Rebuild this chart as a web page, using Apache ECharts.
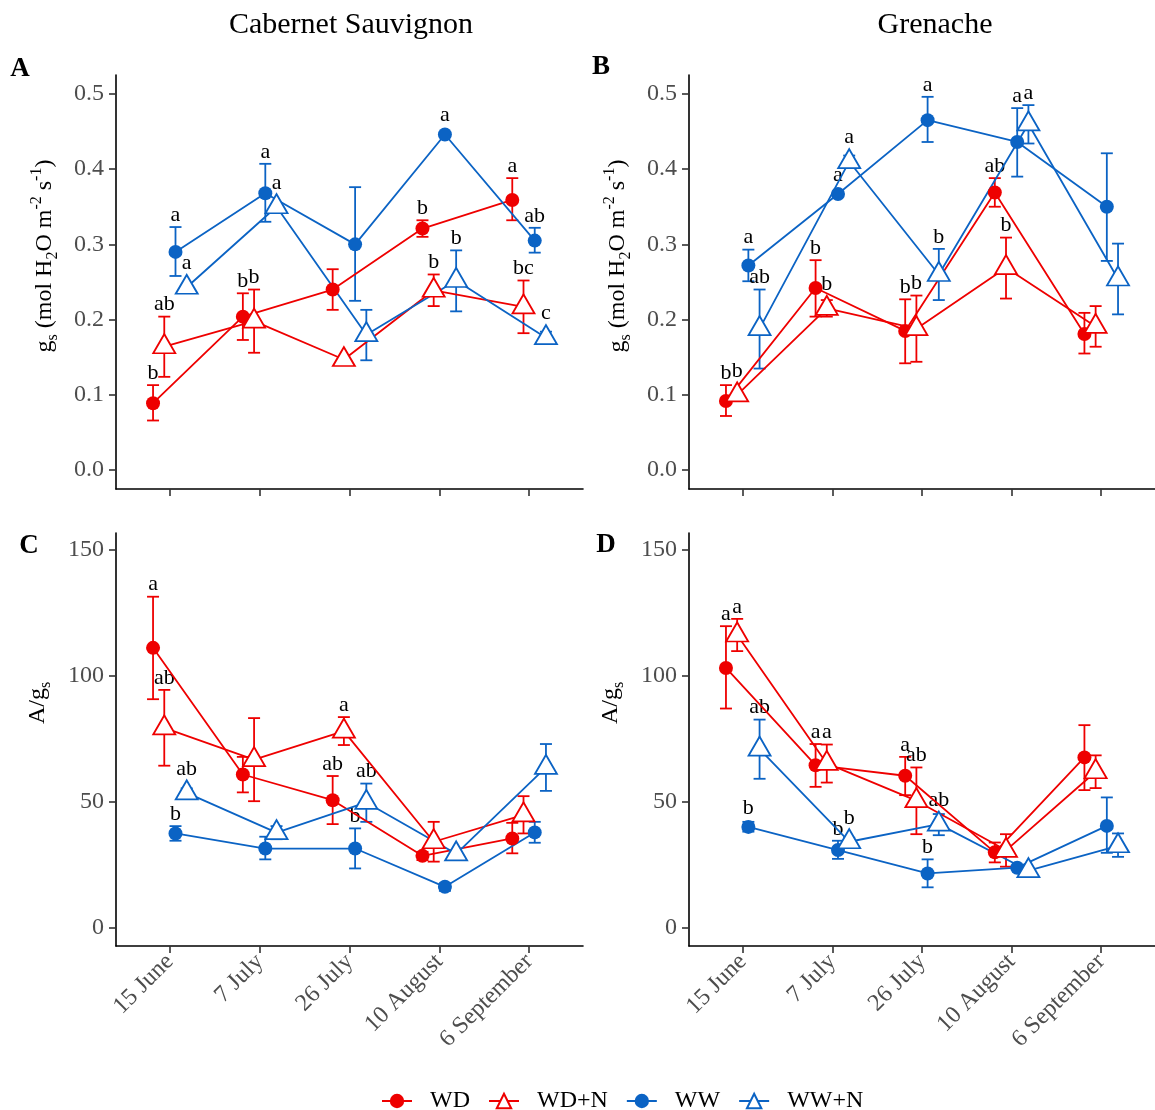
<!DOCTYPE html>
<html><head><meta charset="utf-8">
<script src="https://cdn.jsdelivr.net/npm/echarts@6/dist/echarts.min.js"></script>
<style>html,body{margin:0;padding:0;background:#fff}#c{width:1155px;height:1110px}</style>
</head><body><div id="c"></div>
<script>
// ---------------- data ----------------
const dates = ['15 June', '7 July', '26 July', '10 August', '6 September'];
const treatments = ['WD', 'WD+N', 'WW', 'WW+N'];
const gsTicks = [0, 0.1, 0.2, 0.3, 0.4, 0.5];
const agsTicks = [0, 50, 100, 150];

// each entry: [mean, lower error, upper error]
// Panel A : gs, Cabernet Sauvignon
const A_WD   = [[0.089,0.066,0.113],[0.204,0.173,0.235],[0.240,0.213,0.267],[0.321,0.310,0.332],[0.359,0.332,0.388]];
const A_WDN  = [[0.164,0.124,0.204],[0.198,0.156,0.240],[0.147,0.147,0.147],[0.239,0.218,0.260],[0.217,0.182,0.252]];
const A_WW   = [[0.290,0.258,0.323],[0.368,0.330,0.407],[0.300,0.225,0.376],[0.446,0.446,0.446],[0.305,0.289,0.322]];
const A_WWN  = [[0.243,0.243,0.243],[0.350,0.350,0.350],[0.180,0.146,0.213],[0.252,0.211,0.292],[0.176,0.168,0.184]];
const A_letters = [['b','b','','b','a'],['ab','b','','b','bc'],['a','a','','a','ab'],['a','a','','b','c']];
// Panel B : gs, Grenache
const B_WD   = [[0.092,0.072,0.113],[0.242,0.204,0.279],[0.185,0.142,0.227],[0.369,0.350,0.388],[0.181,0.155,0.209]];
const B_WDN  = [[0.100,0.100,0.100],[0.215,0.204,0.226],[0.188,0.144,0.232],[0.269,0.228,0.309],[0.191,0.164,0.218]];
const B_WW   = [[0.272,0.251,0.293],[0.367,0.367,0.367],[0.465,0.436,0.496],[0.436,0.390,0.481],[0.350,0.278,0.421]];
const B_WWN  = [[0.188,0.135,0.240],[0.410,0.402,0.418],[0.260,0.226,0.294],[0.460,0.434,0.485],[0.254,0.207,0.301]];
const B_letters = [['b','b','b','ab',''],['b','b','b','b',''],['a','a','a','a',''],['ab','a','b','a','']];
// Panel C : A/gs, Cabernet Sauvignon
const C_WD   = [[111.0,90.6,131.3],[60.7,53.6,67.7],[50.5,41.0,60.1],[28.4,26.7,30.0],[35.3,29.4,41.5]];
const C_WDN  = [[79.2,64.2,94.3],[66.6,50.1,83.1],[77.9,72.4,83.5],[34.0,26.1,41.9],[44.7,37.3,52.1]];
const C_WW   = [[37.3,34.4,40.2],[31.3,27.0,36.0],[31.3,23.4,39.3],[16.1,14.5,17.5],[37.7,33.6,41.9]];
const C_WWN  = [[53.4,51.6,55.2],[37.6,35.0,40.2],[49.6,41.9,57.1],[29.2,29.2,29.2],[63.5,54.2,72.8]];
const C_letters = [['a','','ab','',''],['ab','','a','',''],['b','','b','',''],['ab','','ab','','']];
// Panel D : A/gs, Grenache
const D_WD   = [[103.0,86.9,119.6],[64.4,55.8,72.8],[60.2,52.5,67.7],[29.8,25.8,33.7],[67.5,54.5,80.3]];
const D_WDN  = [[116.1,109.7,122.5],[65.1,57.5,72.6],[50.3,37.0,63.5],[30.6,24.1,37.0],[61.8,55.3,68.3]];
const D_WW   = [[39.9,38.0,41.9],[30.7,27.2,34.4],[21.4,15.9,27.0],[23.7,23.7,23.7],[40.3,29.6,51.6]];
const D_WWN  = [[70.8,59.0,82.5],[34.0,32.0,35.6],[41.0,36.6,45.0],[22.5,22.5,22.5],[32.4,28.0,37.3]];
const D_letters = [['a','a','a','',''],['a','a','ab','',''],['b','b','b','',''],['ab','b','ab','','']];

// ---------------- styling ----------------
const F = '"Liberation Serif", "Times New Roman", serif';
const RED = '#ee0000', BLUE = '#0b63c4';
const colors = [RED, RED, BLUE, BLUE];
const isTri = [false, true, false, true];
const dodge = [-0.1875, -0.0625, 0.0625, 0.1875];
const LW = 1.8;

const panels = [
  {sets:[A_WD,A_WDN,A_WW,A_WWN], letters:A_letters, grid:{left:116, top:75, width:467, height:414}, y:'gs', xl:false},
  {sets:[B_WD,B_WDN,B_WW,B_WWN], letters:B_letters, grid:{left:689, top:75, width:466, height:414}, y:'gs', xl:false},
  {sets:[C_WD,C_WDN,C_WW,C_WWN], letters:C_letters, grid:{left:116, top:533, width:467, height:413}, y:'ags', xl:true},
  {sets:[D_WD,D_WDN,D_WW,D_WWN], letters:D_letters, grid:{left:689, top:533, width:466, height:413}, y:'ags', xl:true}
];

const richName = {
  m:  {fontSize:24, fontFamily:F, color:'#000', lineHeight:32},
  sb: {fontSize:16, fontFamily:F, color:'#000', lineHeight:14, verticalAlign:'bottom'},
  sp: {fontSize:16, fontFamily:F, color:'#000', lineHeight:16, verticalAlign:'top'}
};
const gsName = '{m|g}{sb|s}{m| (mol H}{sb|2}{m|O m}{sp|-2}{m| s}{sp|-1}{m|)}';
const agsName = '{m|A/g}{sb|s}';

const grids = [], xAxes = [], yAxes = [], series = [];
panels.forEach((p, i) => {
  grids.push(Object.assign({containLabel:false, outerBoundsMode:'none'}, p.grid));
  xAxes.push({
    type:'value', gridIndex:i, min:0.4, max:5.6,
    axisLine:{show:true, onZero:false, lineStyle:{color:'#000', width:1.6}},
    axisTick:{show:true, length:7, customValues:[1,2,3,4,5], lineStyle:{color:'#333', width:1.6}},
    axisLabel:{show:p.xl, customValues:[1,2,3,4,5], rotate:45, margin:12, color:'#4d4d4d', fontSize:24, fontFamily:F,
      formatter: v => dates[Math.round(v) - 1]},
    splitLine:{show:false}
  });
  const gs = p.y === 'gs';
  yAxes.push({
    type:'value', gridIndex:i,
    min: gs ? -0.025 : -7.4, max: gs ? 0.525 : 156.6,
    axisLine:{show:true, onZero:false, lineStyle:{color:'#000', width:1.6}},
    axisTick:{show:true, length:7, customValues: gs ? gsTicks : agsTicks, lineStyle:{color:'#333', width:1.6}},
    axisLabel:{customValues: gs ? gsTicks : agsTicks, margin:12, color:'#4d4d4d', fontSize:24, fontFamily:F,
      formatter: v => gs ? v.toFixed(1) : String(Math.round(v))},
    splitLine:{show:false},
    name: gs ? gsName : agsName, nameLocation:'middle', nameRotate:90,
    nameGap: gs ? 55 : 62,
    nameTextStyle:{rich:richName, padding: gs ? [0,0,0,52] : [0,0,0,73]}
  });
  p.sets.forEach((vals, j) => {
    const col = colors[j], tri = isTri[j];
    series.push({
      type:'line', name:treatments[j], xAxisIndex:i, yAxisIndex:i,
      data: vals.map((d, k) => [k + 1 + dodge[j], d[0]]),
      symbol: tri ? 'triangle' : 'circle',
      symbolSize: tri ? [22, 19] : 14,
      symbolOffset: tri ? [0, -3] : [0, 0],
      showAllSymbol:true,
      lineStyle:{color:col, width:LW},
      itemStyle: tri ? {color:'#ffffff', borderColor:col, borderWidth:LW} : {color:col, borderWidth:0},
      emphasis:{disabled:true}, animation:false, z:3
    });
    const lets = p.letters[j];
    series.push({
      type:'custom', name:treatments[j] + ' err', xAxisIndex:i, yAxisIndex:i,
      data: vals.map((d, k) => [k + 1 + dodge[j], d[0], d[1], d[2]]),
      encode:{x:0, y:1},
      silent:true, animation:false, z:2, clip:false,
      renderItem: (params, api) => {
        const x = api.value(0), v = api.value(1), lo = api.value(2), hi = api.value(3);
        const c = api.coord([x, v]), cl = api.coord([x, lo]), ch = api.coord([x, hi]);
        const st = {stroke:col, lineWidth:LW};
        const ch_ = [];
        if (hi > lo) {
          ch_.push({type:'line', shape:{x1:c[0], y1:cl[1], x2:c[0], y2:ch[1]}, style:st});
          ch_.push({type:'line', shape:{x1:c[0]-6, y1:cl[1], x2:c[0]+6, y2:cl[1]}, style:st});
          ch_.push({type:'line', shape:{x1:c[0]-6, y1:ch[1], x2:c[0]+6, y2:ch[1]}, style:st});
        }
        const L = lets[params.dataIndex];
        if (L) {
          const markTop = c[1] - (tri ? 12 : 7);
          const yy = Math.min(ch[1], markTop) - 12;
          ch_.push({type:'text', x:c[0], y:yy, z2:10, style:{text:L, fill:'#000', fontSize:22, fontFamily:F, align:'center', verticalAlign:'middle'}});
        }
        return {type:'group', children:ch_};
      }
    });
  });
});

const chart = echarts.init(document.getElementById('c'), null, {renderer:'canvas'});
chart.setOption({
  backgroundColor:'#fff',
  animation:false,
  grid:grids, xAxis:xAxes, yAxis:yAxes, series:series,
  legend:{
    data:treatments, left:381, top:1089, padding:0, itemWidth:30, itemHeight:18, itemGap:18,
    textStyle:{fontSize:24, fontFamily:F, color:'#000', padding:[0,0,0,13]},
    selectedMode:false
  },
  graphic:[
    {type:'text', x:351, y:25, style:{text:'Cabernet Sauvignon', fontSize:30, fontFamily:F, fill:'#000', align:'center', verticalAlign:'middle'}},
    {type:'text', x:935, y:25, style:{text:'Grenache', fontSize:30, fontFamily:F, fill:'#000', align:'center', verticalAlign:'middle'}},
    {type:'text', x:20, y:69, style:{text:'A', fontSize:27, fontWeight:'bold', fontFamily:F, fill:'#000', align:'center', verticalAlign:'middle'}},
    {type:'text', x:601, y:67, style:{text:'B', fontSize:27, fontWeight:'bold', fontFamily:F, fill:'#000', align:'center', verticalAlign:'middle'}},
    {type:'text', x:29, y:546, style:{text:'C', fontSize:27, fontWeight:'bold', fontFamily:F, fill:'#000', align:'center', verticalAlign:'middle'}},
    {type:'text', x:606, y:545, style:{text:'D', fontSize:27, fontWeight:'bold', fontFamily:F, fill:'#000', align:'center', verticalAlign:'middle'}}
  ]
});
</script>
</body></html>
